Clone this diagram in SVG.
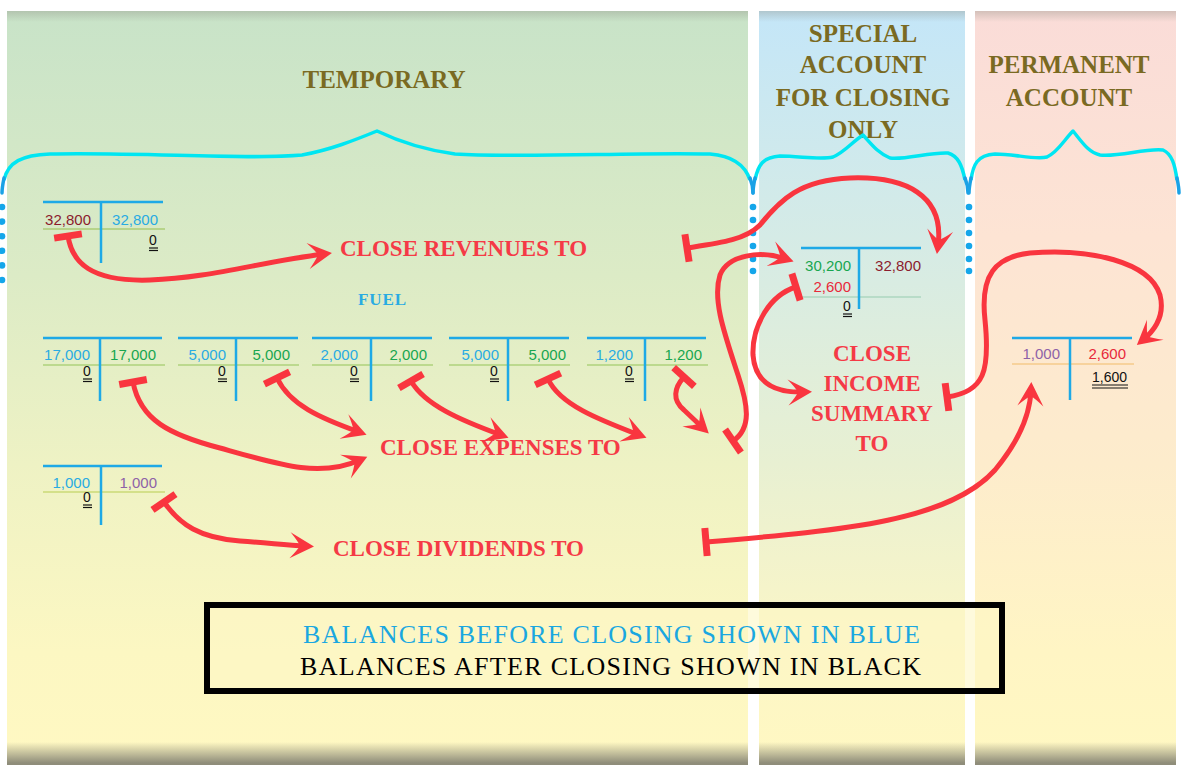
<svg xmlns="http://www.w3.org/2000/svg" width="1182" height="765" viewBox="0 0 1182 765">
<defs>
<linearGradient id="gT" gradientUnits="userSpaceOnUse" x1="0" y1="11" x2="0" y2="765">
<stop offset="0" stop-color="#c8e3c8"/><stop offset="0.35" stop-color="#dcebc6"/><stop offset="0.6" stop-color="#eef2c4"/><stop offset="0.85" stop-color="#fcf7c2"/><stop offset="1" stop-color="#fff8c2"/>
</linearGradient>
<linearGradient id="gS" gradientUnits="userSpaceOnUse" x1="0" y1="11" x2="0" y2="765">
<stop offset="0" stop-color="#c4e6f8"/><stop offset="0.3" stop-color="#d5ebe6"/><stop offset="0.6" stop-color="#e8f0d2"/><stop offset="0.85" stop-color="#fcf6c6"/><stop offset="1" stop-color="#fff8c2"/>
</linearGradient>
<linearGradient id="gP" gradientUnits="userSpaceOnUse" x1="0" y1="11" x2="0" y2="765">
<stop offset="0" stop-color="#fadcd8"/><stop offset="0.3" stop-color="#fde4d4"/><stop offset="0.6" stop-color="#fdeccc"/><stop offset="0.85" stop-color="#fff5c4"/><stop offset="1" stop-color="#fff8c2"/>
</linearGradient>
<linearGradient id="gB" gradientUnits="userSpaceOnUse" x1="0" y1="742" x2="0" y2="763">
<stop offset="0" stop-color="#8f8d7a" stop-opacity="0"/><stop offset="1" stop-color="#8f8d7a" stop-opacity="1"/>
</linearGradient>
<linearGradient id="gTop" gradientUnits="userSpaceOnUse" x1="0" y1="11" x2="0" y2="22">
<stop offset="0" stop-color="#8c8c80" stop-opacity="0.35"/><stop offset="1" stop-color="#8c8c80" stop-opacity="0"/>
</linearGradient>
<marker id="ah" markerUnits="userSpaceOnUse" viewBox="-20 -16 32 32" markerWidth="32" markerHeight="32" refX="0" refY="0" orient="auto">
<path d="M 8,0 L -16,-13 Q -8,-4 -6,0 Q -8,4 -16,13 Z" fill="#f9353f"/>
</marker>
<marker id="tb" markerUnits="userSpaceOnUse" viewBox="-6 -16 12 32" markerWidth="12" markerHeight="32" refX="0" refY="0" orient="auto">
<path d="M0,-14 L0,14" stroke="#f9353f" stroke-width="7"/>
</marker>
<style>
.n{font-family:"Liberation Sans",Arial,sans-serif;font-size:15px}
.z{font-family:"Liberation Sans",Arial,sans-serif;font-size:14px;fill:#111;text-anchor:middle}
.e{text-anchor:end}
.tl{stroke:#1ea9e6;stroke-width:2.5;fill:none}
.u{stroke:#111;stroke-width:1.2}
.arr{stroke:#f9353f;stroke-width:5;fill:none;marker-end:url(#ah);marker-start:url(#tb)}
.lbl{font-family:"Liberation Serif","Times New Roman",serif;font-weight:bold;font-size:23px;fill:#f53a46}
.hd{font-family:"Liberation Serif","Times New Roman",serif;font-weight:bold;font-size:25px;fill:#7a6a22;text-anchor:middle}
.br{stroke:#00e6f2;stroke-width:3.5;fill:none;stroke-linejoin:round}
.be{stroke:#1aa2e6;stroke-width:3.5;fill:none;stroke-linecap:round}
.dot{fill:#14a6ea}
.lg{font-family:"Liberation Serif","Times New Roman",serif;font-size:26px}
.blue{fill:#29abe2}.green{fill:#18a650}.dred{fill:#8b1c2e}.purple{fill:#8e62a8}.red{fill:#e8293b}.black{fill:#111}
</style>
</defs>
<rect width="1182" height="765" fill="#ffffff"/>
<g id="panels">
<rect x="7" y="11" width="741" height="754" fill="url(#gT)"/>
<rect x="759" y="11" width="206" height="754" fill="url(#gS)"/>
<rect x="975" y="11" width="201" height="754" fill="url(#gP)"/>
<rect x="7" y="11" width="741" height="11" fill="url(#gTop)"/>
<rect x="759" y="11" width="206" height="11" fill="url(#gTop)"/>
<rect x="975" y="11" width="201" height="11" fill="url(#gTop)"/>
<rect x="7" y="742" width="741" height="23" fill="url(#gB)"/>
<rect x="759" y="742" width="206" height="23" fill="url(#gB)"/>
<rect x="975" y="742" width="201" height="23" fill="url(#gB)"/>
</g>
<g id="headings">
<text class="hd" x="384" y="88">TEMPORARY</text>
<text class="hd" x="863" y="42">SPECIAL</text>
<text class="hd" x="863" y="73">ACCOUNT</text>
<text class="hd" x="863" y="106">FOR CLOSING</text>
<text class="hd" x="863" y="138">ONLY</text>
<text class="hd" x="1069" y="73">PERMANENT</text>
<text class="hd" x="1069" y="106">ACCOUNT</text>
</g>
<g id="braces">
<path class="br" d="M 4,180 C 8,162 22,155 50,154 C 140,152 250,160 302,155 C 330,150 355,140 377,131 C 400,142 425,150 455,154 C 520,158 640,152 710,154 C 735,156 746,168 750,180"/>
<path class="br" d="M 755,180 C 758,165 763,157 780,156 C 800,156 820,160 833,157 C 845,152 852,142 863,135 C 872,145 878,153 890,158 C 905,160 930,152 948,153 C 958,156 962,165 965,180"/>
<path class="br" d="M 971,180 C 973,165 977,155 995,154 C 1015,154 1035,160 1047,157 C 1058,152 1064,140 1073,131 C 1082,142 1088,152 1100,155 C 1120,157 1145,148 1163,150 C 1172,154 1175,165 1177,180"/>
<path class="be" d="M 4,178 C 3,183 2,188 2,193"/>
<path class="be" d="M 750,178 C 752,183 753,188 753,193"/>
<path class="be" d="M 755,178 C 754,183 753,188 753,193"/>
<path class="be" d="M 965,178 C 967,183 968,188 968,193"/>
<path class="be" d="M 971,178 C 970,183 969,188 969,193"/>
<path class="be" d="M 1177,178 C 1178,183 1179,188 1179,193"/>
<g class="dot">
<circle cx="2" cy="207" r="3.3"/><circle cx="2" cy="221.6" r="3.3"/><circle cx="2" cy="236.2" r="3.3"/><circle cx="2" cy="250.8" r="3.3"/><circle cx="2" cy="265.4" r="3.3"/><circle cx="2" cy="280" r="3.3"/>
<circle cx="753" cy="207" r="3.3"/><circle cx="753" cy="220" r="3.3"/><circle cx="753" cy="233" r="3.3"/><circle cx="753" cy="246" r="3.3"/><circle cx="753" cy="259" r="3.3"/><circle cx="753" cy="271" r="3.3"/>
<circle cx="969" cy="207" r="3.3"/><circle cx="969" cy="220" r="3.3"/><circle cx="969" cy="233" r="3.3"/><circle cx="969" cy="246" r="3.3"/><circle cx="969" cy="259" r="3.3"/><circle cx="969" cy="271" r="3.3"/>
</g>
</g>
<g id="acct-revenue">
<line x1="43" y1="229" x2="165" y2="229" stroke="#b7d48a" stroke-width="2"/>
<line class="tl" x1="43" y1="202" x2="163" y2="202"/>
<line class="tl" x1="101" y1="202" x2="101" y2="263"/>
<text class="n e dred" x="91" y="225">32,800</text>
<text class="n e blue" x="158" y="225">32,800</text>
<text class="z" x="153" y="245">0</text>
<line class="u" x1="149" y1="248" x2="158" y2="248"/><line class="u" x1="149" y1="250.5" x2="158" y2="250.5" stroke-width="1.5"/>
</g>
<g id="label-fuel">
<text x="382" y="305" text-anchor="middle" font-family="Liberation Serif,serif" font-weight="bold" font-size="17" fill="#29abe2" textLength="48" lengthAdjust="spacing">FUEL</text>
</g>
<g id="acct-exp1">
<line x1="43" y1="365" x2="165" y2="365" stroke="#bcd98e" stroke-width="2"/>
<line class="tl" x1="43" y1="338" x2="162" y2="338"/>
<line class="tl" x1="100" y1="338" x2="100" y2="401"/>
<text class="n e blue" x="90" y="360">17,000</text>
<text class="n e green" x="156" y="360">17,000</text>
<text class="z" x="87" y="376">0</text>
<line class="u" x1="83" y1="379" x2="92" y2="379"/><line class="u" x1="83" y1="381.5" x2="92" y2="381.5" stroke-width="1.5"/>
</g>
<g id="acct-exp2">
<line x1="178" y1="365" x2="299" y2="365" stroke="#bcd98e" stroke-width="2"/>
<line class="tl" x1="178" y1="338" x2="298" y2="338"/>
<line class="tl" x1="236" y1="338" x2="236" y2="401"/>
<text class="n e blue" x="226" y="360">5,000</text>
<text class="n e green" x="290" y="360">5,000</text>
<text class="z" x="222" y="376">0</text>
<line class="u" x1="218" y1="379" x2="227" y2="379"/><line class="u" x1="218" y1="381.5" x2="227" y2="381.5" stroke-width="1.5"/>
</g>
<g id="acct-exp3">
<line x1="312" y1="365" x2="433" y2="365" stroke="#bcd98e" stroke-width="2"/>
<line class="tl" x1="312" y1="338" x2="432" y2="338"/>
<line class="tl" x1="371" y1="338" x2="371" y2="401"/>
<text class="n e blue" x="358" y="360">2,000</text>
<text class="n e green" x="427" y="360">2,000</text>
<text class="z" x="354" y="376">0</text>
<line class="u" x1="350" y1="379" x2="359" y2="379"/><line class="u" x1="350" y1="381.5" x2="359" y2="381.5" stroke-width="1.5"/>
</g>
<g id="acct-exp4">
<line x1="449" y1="365" x2="570" y2="365" stroke="#bcd98e" stroke-width="2"/>
<line class="tl" x1="449" y1="338" x2="569" y2="338"/>
<line class="tl" x1="508" y1="338" x2="508" y2="401"/>
<text class="n e blue" x="499" y="360">5,000</text>
<text class="n e green" x="566" y="360">5,000</text>
<text class="z" x="494" y="376">0</text>
<line class="u" x1="490" y1="379" x2="499" y2="379"/><line class="u" x1="490" y1="381.5" x2="499" y2="381.5" stroke-width="1.5"/>
</g>
<g id="acct-exp5">
<line x1="587" y1="365" x2="708" y2="365" stroke="#bcd98e" stroke-width="2"/>
<line class="tl" x1="587" y1="338" x2="706" y2="338"/>
<line class="tl" x1="645" y1="338" x2="645" y2="401"/>
<text class="n e blue" x="633" y="360">1,200</text>
<text class="n e green" x="702" y="360">1,200</text>
<text class="z" x="629" y="376">0</text>
<line class="u" x1="625" y1="379" x2="634" y2="379"/><line class="u" x1="625" y1="381.5" x2="634" y2="381.5" stroke-width="1.5"/>
</g>
<g id="acct-dividends">
<line x1="43" y1="492" x2="165" y2="492" stroke="#d4e08a" stroke-width="2"/>
<line class="tl" x1="43" y1="466" x2="162" y2="466"/>
<line class="tl" x1="101" y1="466" x2="101" y2="525"/>
<text class="n e blue" x="90" y="488">1,000</text>
<text class="n e purple" x="157" y="488">1,000</text>
<text class="z" x="87" y="502">0</text>
<line class="u" x1="83" y1="505" x2="92" y2="505"/><line class="u" x1="83" y1="507.5" x2="92" y2="507.5" stroke-width="1.5"/>
</g>
<g id="acct-income-summary">
<line x1="801" y1="297" x2="921" y2="297" stroke="#b8dcc8" stroke-width="2"/>
<line class="tl" x1="801" y1="248" x2="921" y2="248"/>
<line class="tl" x1="859" y1="248" x2="859" y2="309"/>
<text class="n e green" x="851" y="271">30,200</text>
<text class="n e dred" x="921" y="271">32,800</text>
<text class="n e red" x="851" y="292">2,600</text>
<text class="z" x="847" y="311">0</text>
<line class="u" x1="843" y1="314" x2="852" y2="314"/><line class="u" x1="843" y1="316.5" x2="852" y2="316.5" stroke-width="1.5"/>
</g>
<g id="acct-retained">
<line x1="1012" y1="364" x2="1134" y2="364" stroke="#f7d29c" stroke-width="2"/>
<line class="tl" x1="1012" y1="338" x2="1132" y2="338"/>
<line class="tl" x1="1070" y1="338" x2="1070" y2="400"/>
<text class="n e purple" x="1060" y="359">1,000</text>
<text class="n e red" x="1126" y="359">2,600</text>
<text x="1127" y="382" text-anchor="end" font-family="Liberation Sans,Arial,sans-serif" font-size="14" fill="#111">1,600</text>
<line class="u" x1="1092" y1="385" x2="1128" y2="385"/><line class="u" x1="1092" y1="388" x2="1128" y2="388" stroke-width="1.6"/>
</g>
<g id="labels">
<text class="lbl" x="340" y="256">CLOSE REVENUES TO</text>
<text class="lbl" x="380" y="455">CLOSE EXPENSES TO</text>
<text class="lbl" x="333" y="556">CLOSE DIVIDENDS TO</text>
<text class="lbl" x="872" y="361" text-anchor="middle">CLOSE</text>
<text class="lbl" x="872" y="391" text-anchor="middle">INCOME</text>
<text class="lbl" x="872" y="421" text-anchor="middle">SUMMARY</text>
<text class="lbl" x="872" y="451" text-anchor="middle">TO</text>
</g>
<g id="connectors">
<path class="arr" d="M 68,236 C 72,262 90,282 150,280 C 210,278 260,262 324,254"/>
<path class="arr" d="M 133,382 C 140,420 170,435 220,448 C 280,465 320,478 360,460"/>
<path class="arr" d="M 277,378 C 290,405 320,418 359,432"/>
<path class="arr" d="M 411,381 C 425,405 460,420 501,435"/>
<path class="arr" d="M 548,379 C 560,405 600,420 639,435"/>
<path class="arr" d="M 684,377 C 674,388 672,400 684,410 L 703,428"/>
<path class="arr" d="M 733,441 C 752,428 748,405 738,375 C 725,335 712,300 720,275 C 728,255 760,250 786,259"/>
<path class="arr" d="M 687,248 C 720,243 745,240 760,225 C 780,200 800,180 850,178 C 905,176 945,195 938,246"/>
<path class="arr" d="M 796,287 C 770,295 752,325 753,355 C 755,385 778,393 804,392"/>
<path class="arr" d="M 947,397 C 985,392 990,370 985,320 C 980,275 995,257 1030,253 C 1090,248 1150,262 1160,295 C 1165,315 1155,330 1143,340"/>
<path class="arr" d="M 164,502 C 180,525 200,538 240,541 C 270,543 285,545 306,546"/>
<path class="arr" d="M 706,542 C 850,530 950,520 995,470 C 1020,440 1030,415 1031,390"/>
</g>
<g id="legend">
<rect x="207" y="605" width="795" height="86" fill="#fdf7c4" fill-opacity="0.6" stroke="#000" stroke-width="6"/>
<text class="lg" x="303" y="643" textLength="617" lengthAdjust="spacing" fill="#1aa7e0">BALANCES BEFORE CLOSING SHOWN IN BLUE</text>
<text class="lg" x="300" y="675" textLength="621" lengthAdjust="spacing" fill="#000">BALANCES AFTER CLOSING SHOWN IN BLACK</text>
</g>
</svg>
